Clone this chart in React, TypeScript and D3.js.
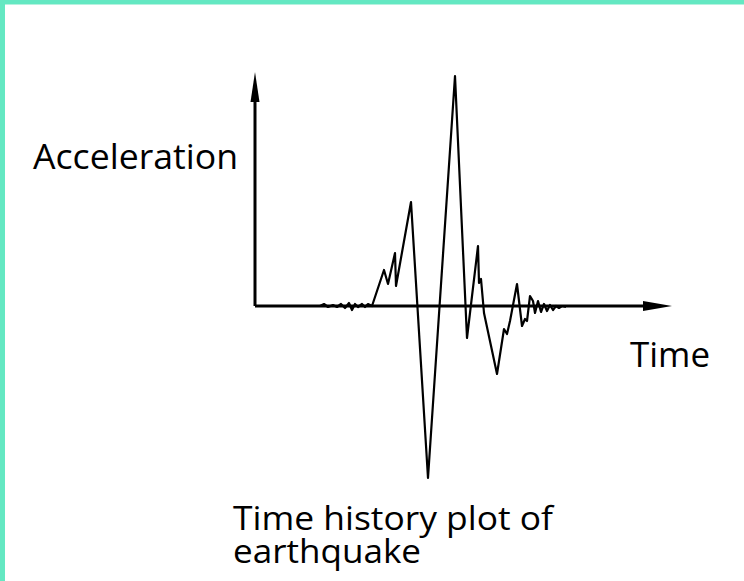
import React from "react";
import * as d3 from "d3";

// Time history (s) and acceleration (m/s²)
const timeS: number[] = [
  6.5, 6.9, 7.3, 7.8, 8.2, 8.6, 9.0, 9.4, 9.7, 10.0, 10.3, 10.7, 11.0, 11.3, 11.7,
  12.9, 13.3, 14.0, 14.1, 15.6, 17.3, 20.0, 21.2, 22.3, 22.4, 22.6, 22.9, 24.2,
  24.9, 25.2, 25.5, 26.2, 26.7, 27.0, 27.2, 27.5, 27.8, 28.0, 28.3, 28.6, 28.9,
  29.2, 29.5, 29.8, 30.1, 30.4, 30.7, 31.1,
];
const accel: number[] = [
  0, 0.02, -0.01, 0.01, -0.01, 0.02, -0.02, 0.03, -0.04, 0.02, -0.01, 0.02, -0.01, 0.02, 0,
  0.36, 0.22, 0.53, 0.2, 1.04, -1.72, 2.3, -0.32, 0.6, 0.23, 0.27, -0.07, -0.68,
  -0.23, -0.28, -0.15, 0.22, -0.2, -0.13, -0.15, 0.1, 0.05, -0.07, 0.05, -0.06, 0.02,
  -0.05, 0.01, -0.04, 0, -0.02, 0, -0.01,
];
const axisLabels = { y: "Acceleration", x: "Time" };
const captionLines: string[] = ["Time history plot of", "earthquake"];

const W = 744;
const H = 581;
const originX = 255;
const originY = 306;

export default function App() {
  const x = d3.scaleLinear().domain([0, 41.7]).range([originX, originX + 417]);
  const y = d3.scaleLinear().domain([-1, 1]).range([originY + 100, originY - 100]);
  const pts: [number, number][] = timeS.map((t, i) => [t, accel[i]]);
  const line = d3
    .line<[number, number]>()
    .x((d) => x(d[0]))
    .y((d) => y(d[1]));

  const yTop = 72;
  const xEnd = x(41.7);
  const font = "'Open Sans', 'Noto Sans', sans-serif";
  const teal = "#64E8C2";

  return (
    <svg
      width={W}
      height={H}
      style={{ position: "absolute", left: 0, top: 0, background: "#fff" }}
    >
      <rect x={0} y={0} width={W} height={H} fill="#fff" />
      {/* border */}
      <rect x={0} y={0} width={W} height={4} fill={teal} />
      <rect x={0} y={4} width={W} height={1} fill="#B5F2DF" />
      <rect x={0} y={0} width={5} height={H} fill={teal} />

      {/* axes */}
      <line x1={originX} y1={originY} x2={originX} y2={yTop + 20} stroke="#000" strokeWidth={3} />
      <path
        d={`M${originX},${yTop} L${originX + 4.5},${yTop + 30} L${originX - 4.5},${yTop + 30} Z`}
        fill="#000"
      />
      <line x1={originX} y1={originY} x2={xEnd - 20} y2={originY} stroke="#000" strokeWidth={3} />
      <path
        d={`M${xEnd},${originY} L${xEnd - 29},${originY - 5} L${xEnd - 29},${originY + 5} Z`}
        fill="#000"
      />

      {/* waveform */}
      <path
        d={line(pts) || ""}
        fill="none"
        stroke="#000"
        strokeWidth={2.2}
        strokeLinejoin="round"
      />

      {/* labels */}
      <text x={33} y={169} fontFamily={font} fontSize={34} fill="#000" textLength={205} lengthAdjust="spacingAndGlyphs">
        {axisLabels.y}
      </text>
      <text x={630} y={367} fontFamily={font} fontSize={34} fill="#000" textLength={80} lengthAdjust="spacingAndGlyphs">
        {axisLabels.x}
      </text>
      <text x={233} y={530} fontFamily={font} fontSize={32} fill="#000" textLength={320} lengthAdjust="spacingAndGlyphs">
        {captionLines[0]}
      </text>
      <text x={233} y={563} fontFamily={font} fontSize={32} fill="#000" textLength={188} lengthAdjust="spacingAndGlyphs">
        {captionLines[1]}
      </text>
    </svg>
  );
}
